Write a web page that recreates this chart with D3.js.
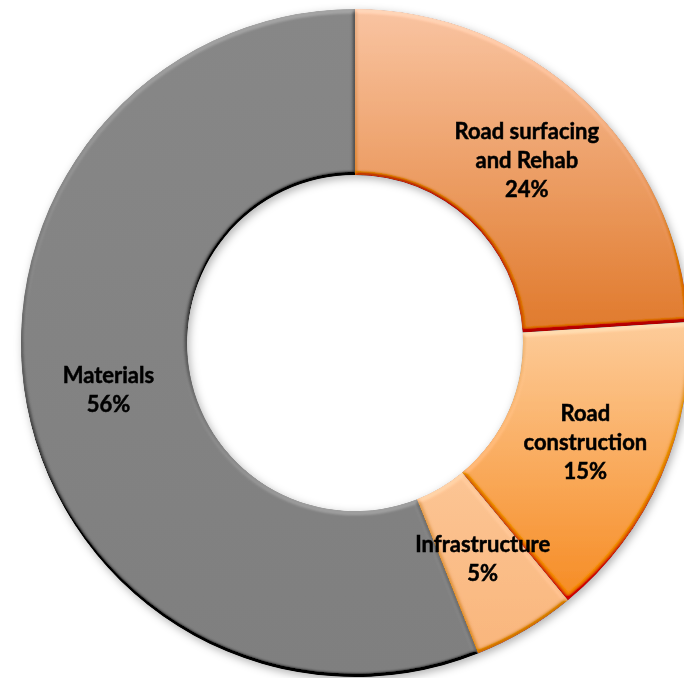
<!DOCTYPE html>
<html>
<head>
<meta charset="utf-8">
<script src="https://cdn.jsdelivr.net/npm/d3@7"></script>
<style>
  html, body { margin: 0; padding: 0; background: #fff; }
  svg { display: block; }
  .lbl { font-family: Lato, "Open Sans", sans-serif; font-weight: 700; fill: #000;
         stroke: #000; stroke-width: 0.5px; paint-order: stroke; }
</style>
</head>
<body>
<svg id="chart" width="684" height="678"></svg>
<script>
// Budget shares, clockwise from 12 o'clock
const categories = ["Road surfacing and Rehab", "Road construction", "Infrastructure", "Materials"];
const shares = [24, 15, 5, 56];
const labelLines = [["Road surfacing", "and Rehab"], ["Road", "construction"], ["Infrastructure"], ["Materials"]];
const percentLabels = ["24%", "15%", "5%", "56%"];
// top/bottom colours of each slice gradient
const colorTop = ["#F9C4A2", "#FDCC9A", "#FCC594", "#878787"];
const colorBottom = ["#E0792A", "#F68B22", "#F9B57C", "#7F7F7F"];

const W = 684, H = 678;
const cx = 355, cy = 343, outerR = 334, innerR = 168;
const fontSize = 22, lineGap = 29;

const svg = d3.select("#chart");
const defs = svg.append("defs");

// per-slice vertical gradients
categories.forEach((c, i) => {
  const g = defs.append("linearGradient")
    .attr("id", "grad" + i)
    .attr("x1", 0).attr("y1", 0).attr("x2", 0).attr("y2", 1);
  g.append("stop").attr("offset", "0%").attr("stop-color", colorTop[i]);
  g.append("stop").attr("offset", "100%").attr("stop-color", colorBottom[i]);
});

// soft bevel: lighting from above brightens upward-facing rims, darkens the rest
const bevel = defs.append("filter").attr("id", "bevel")
  .attr("x", "-5%").attr("y", "-5%").attr("width", "110%").attr("height", "110%");
bevel.append("feGaussianBlur").attr("in", "SourceAlpha").attr("stdDeviation", 2.2).attr("result", "blur");
const lit = bevel.append("feDiffuseLighting").attr("in", "blur")
  .attr("surfaceScale", 4).attr("diffuseConstant", 0.5 / Math.sin(45 * Math.PI / 180))
  .attr("lighting-color", "#ffffff").attr("result", "light");
lit.append("feDistantLight").attr("azimuth", 265).attr("elevation", 45);
bevel.append("feComposite").attr("in", "SourceGraphic").attr("in2", "light")
  .attr("operator", "arithmetic").attr("k1", 0).attr("k2", 1).attr("k3", 0.6).attr("k4", -0.3)
  .attr("result", "shaded");
bevel.append("feComposite").attr("in", "shaded").attr("in2", "SourceAlpha").attr("operator", "in");

// drop shadow under the ring
const shadow = defs.append("filter").attr("id", "shadow")
  .attr("x", "-10%").attr("y", "-10%").attr("width", "120%").attr("height", "120%");
shadow.append("feDropShadow").attr("dx", 2).attr("dy", 3).attr("stdDeviation", 4)
  .attr("flood-color", "#000").attr("flood-opacity", 0.3);

const data = categories.map((c, i) => ({ name: c, value: shares[i], i }));
const pie = d3.pie().value(d => d.value).sort(null);
const arcs = pie(data);
const arc = d3.arc().innerRadius(innerR).outerRadius(outerR);

const ring = svg.append("g")
  .attr("transform", `translate(${cx},${cy})`)
  .attr("filter", "url(#shadow)");

ring.selectAll("path.slice")
  .data(arcs)
  .join("path")
  .attr("class", "slice")
  .attr("d", arc)
  .attr("fill", d => `url(#grad${d.data.i})`)
  .attr("filter", "url(#bevel)");

// labels at the middle of each band
const labels = svg.append("g").attr("transform", `translate(${cx},${cy})`);
arcs.forEach(d => {
  const [x, y] = arc.centroid(d);
  const lines = labelLines[d.data.i].concat([percentLabels[d.data.i]]);
  const t = labels.append("text")
    .attr("class", "lbl")
    .attr("text-anchor", "middle")
    .attr("font-size", fontSize)
    .attr("y", y - (lines.length - 1) * lineGap / 2);
  lines.forEach((ln, k) => {
    t.append("tspan").attr("x", x).attr("dy", k === 0 ? "0.35em" : lineGap).text(ln);
  });
});
</script>
</body>
</html>
